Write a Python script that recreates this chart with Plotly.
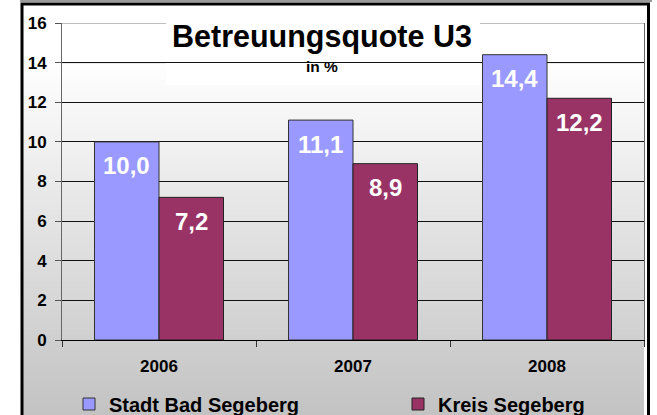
import plotly.graph_objects as go

years = ["2006", "2007", "2008"]
stadt = [10.0, 11.1, 14.4]
kreis = [7.2, 8.9, 12.2]
stadt_labels = ["10,0", "11,1", "14,4"]
kreis_labels = ["7,2", "8,9", "12,2"]
y_ticks = [0, 2, 4, 6, 8, 10, 12, 14, 16]

W, H = 657, 415
L, R, T, B = 62, 13, 23, 75
PW = W - L - R
PH = H - T - B
BARGAP = 0.335

def px(x):
    return (x - L) / PW

def py(y):
    return (H - B - y) / PH

FONT = "Liberation Sans, Arial, sans-serif"
BLUE = "#9999FF"
RED = "#993366"

fig = go.Figure()
fig.add_trace(go.Bar(
    x=years, y=stadt, name="Stadt Bad Segeberg", legend="legend",
    marker=dict(color=BLUE, line=dict(color="#333333", width=1)),
    hoverinfo="skip"))
fig.add_trace(go.Bar(
    x=years, y=kreis, name="Kreis Segeberg", legend="legend2",
    marker=dict(color=RED, line=dict(color="#222222", width=1)),
    hoverinfo="skip"))

shapes = []
# background gradient
y0 = 5
step = 3
while y0 < H + 3:
    lvl = 255 - 0.17 * max(0, (y0 + step / 2) - 60)
    lvl = int(round(max(0, min(255, lvl))))
    c = f"rgb({lvl},{lvl},{lvl})"
    shapes.append(dict(type="rect", xref="paper", yref="paper",
                       x0=px(23), x1=px(644), y0=py(y0 + step + 0.5), y1=py(y0),
                       fillcolor=c, line=dict(width=0), layer="below"))
    y0 += step
# lighter upper gridlines
for gv in y_ticks[-2:]:
    shapes.append(dict(type="line", xref="paper", yref="y",
                       x0=0, x1=1, y0=gv, y1=gv,
                       line=dict(color="#808080", width=1), layer="between"))
# title box
shapes.append(dict(type="rect", xref="paper", yref="paper",
                   x0=px(166), x1=px(480), y0=py(85), y1=py(23),
                   fillcolor="white", line=dict(width=0), layer="between"))
# outer frame
shapes.append(dict(type="line", xref="paper", yref="paper",
                   x0=px(20), x1=px(652), y0=py(1), y1=py(1),
                   line=dict(color="#9a9a9a", width=2), layer="above"))
shapes.append(dict(type="rect", xref="paper", yref="paper",
                   x0=px(22), x1=px(648.5), y0=py(430), y1=py(4),
                   line=dict(color="black", width=3), layer="above"))

annotations = [
    dict(text="<b>Betreuungsquote U3</b>", xref="paper", yref="paper",
         x=px(322), y=py(36.5), xanchor="center", yanchor="middle",
         showarrow=False, font=dict(family=FONT, size=30.5, color="black")),
    dict(text="<b>in %</b>", xref="paper", yref="paper",
         x=px(322), y=py(66.5), xanchor="center", yanchor="middle",
         showarrow=False, font=dict(family=FONT, size=15.5, color="black")),
]

# value labels inside the top of each bar
half = (1 - BARGAP) / 4
for i, (v, t) in enumerate(zip(stadt, stadt_labels)):
    annotations.append(dict(text=f"<b>{t}</b>", xref="x", yref="y",
                            x=i - half, y=v, yshift=-24,
                            xanchor="center", yanchor="middle", showarrow=False,
                            font=dict(family=FONT, size=24, color="white")))
for i, (v, t) in enumerate(zip(kreis, kreis_labels)):
    annotations.append(dict(text=f"<b>{t}</b>", xref="x", yref="y",
                            x=i + half, y=v, yshift=-24,
                            xanchor="center", yanchor="middle", showarrow=False,
                            font=dict(family=FONT, size=24, color="white")))

legend_common = dict(orientation="h", xanchor="left", yanchor="middle",
                     bgcolor="rgba(0,0,0,0)",
                     font=dict(family=FONT, size=20, color="black", weight="bold"),
                     itemclick=False, itemdoubleclick=False)

fig.update_layout(
    width=W, height=H,
    margin=dict(l=L, r=R, t=T, b=B, pad=0, autoexpand=False),
    paper_bgcolor="white",
    plot_bgcolor="rgba(0,0,0,0)",
    barmode="group", bargap=BARGAP, bargroupgap=0,
    shapes=shapes, annotations=annotations,
    showlegend=True,
    legend=dict(x=px(69), y=py(404), **legend_common),
    legend2=dict(x=px(398), y=py(404), **legend_common),
    font=dict(family=FONT, color="black"),
)
fig.update_xaxes(
    type="category", tickson="boundaries", ticks="outside", ticklen=6,
    tickcolor="#333333", showline=True, linecolor="black", linewidth=1,
    showgrid=False, ticklabelstandoff=11,
    tickfont=dict(family=FONT, size=17, color="black", weight="bold"))
fig.update_yaxes(
    range=[0, 16], tickvals=y_ticks, ticktext=[str(v) for v in y_ticks],
    ticks="outside", ticklen=6, tickcolor="#555555",
    showline=True, linecolor="#666666", linewidth=1, mirror=True,
    showgrid=True, gridcolor="#111111", gridwidth=1, zeroline=False,
    ticklabelstandoff=5,
    tickfont=dict(family=FONT, size=17, color="black", weight="bold"))

fig.write_html(
    "out.html",
    config={"displayModeBar": False},
    post_script="document.body.style.margin='0';document.body.style.overflow='hidden';")
